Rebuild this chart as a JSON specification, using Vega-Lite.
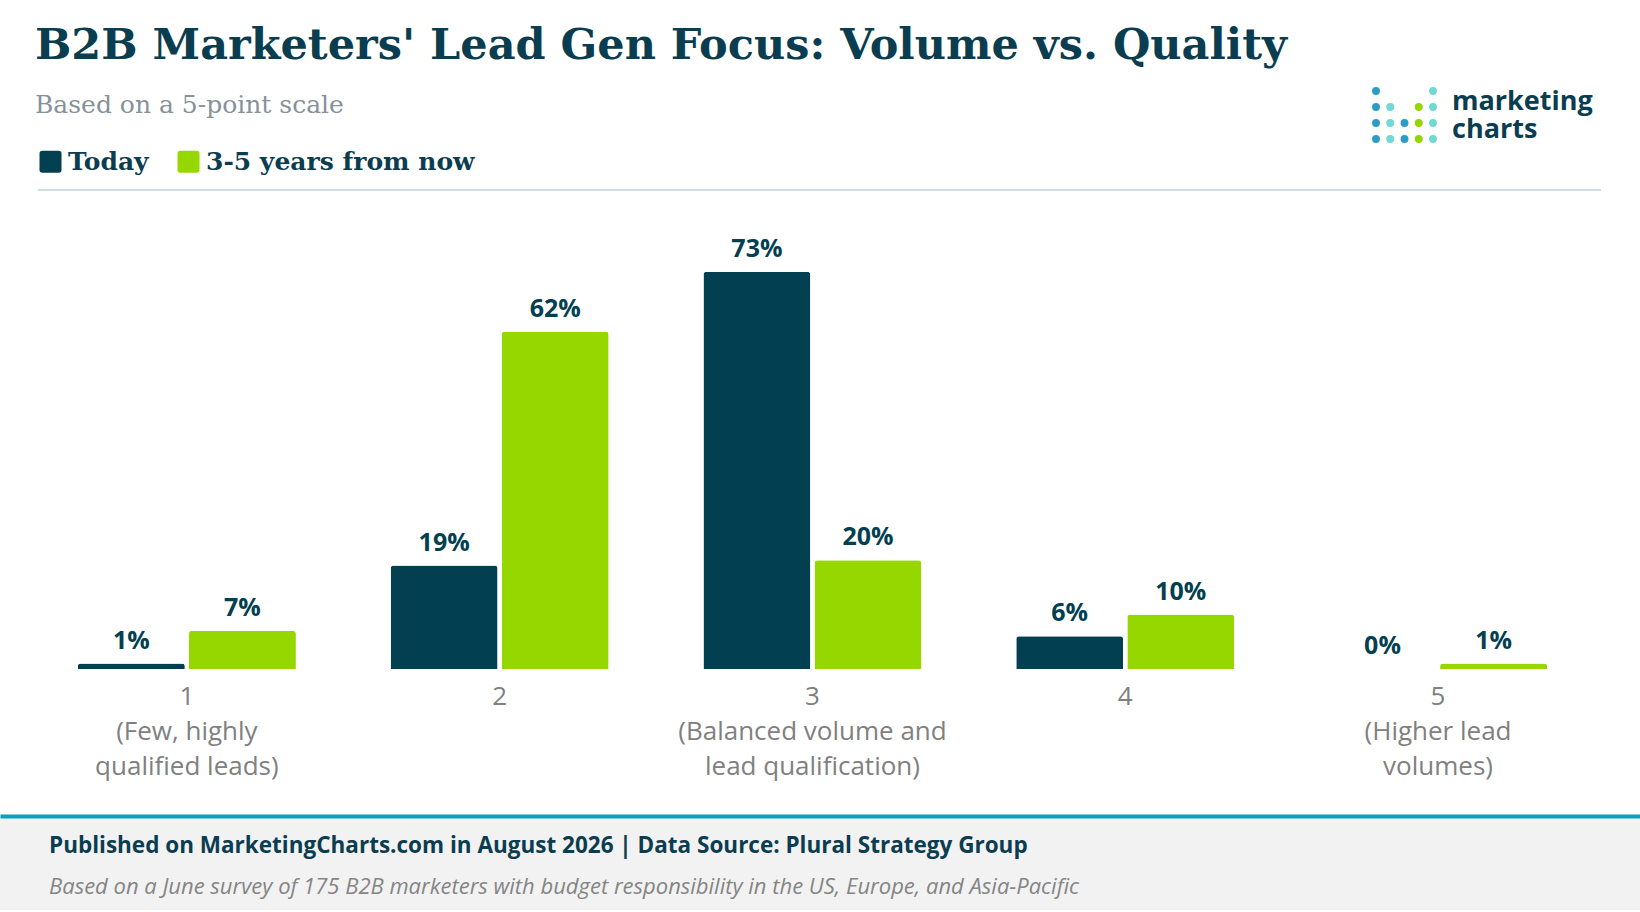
{
  "$schema": "https://vega.github.io/schema/vega-lite/v6.json",
  "description": "B2B marketers' lead gen focus, today vs 3-5 years from now",
  "background": "white",
  "padding": {"left": 0, "right": 0, "top": 25, "bottom": 0},
  "title": {
    "text": "B2B Marketers' Lead Gen Focus: Volume vs. Quality",
    "subtitle": "Based on a 5-point scale",
    "anchor": "start",
    "dx": 35,
    "font": "DejaVu Serif",
    "fontSize": 43,
    "fontWeight": "bold",
    "color": "#0b3d50",
    "subtitleFont": "DejaVu Serif",
    "subtitleFontSize": 25,
    "subtitleColor": "#87919a",
    "subtitlePadding": 25,
    "offset": -31
  },
  "spacing": 37,
  "center": true,
  "resolve": {"scale": {"color": "independent"}, "legend": {"color": "independent"}},
  "vconcat": [
    {
      "width": 1563,
      "height": 479,
      "resolve": {"scale": {"x": "independent", "y": "independent", "color": "independent"}},
      "layer": [
        {
          "data": {
            "values": [
              {"level": "1", "period": "Today", "share": 0.01},
              {"level": "1", "period": "3-5 years from now", "share": 0.07},
              {"level": "2", "period": "Today", "share": 0.19},
              {"level": "2", "period": "3-5 years from now", "share": 0.62},
              {"level": "3", "period": "Today", "share": 0.73},
              {"level": "3", "period": "3-5 years from now", "share": 0.20},
              {"level": "4", "period": "Today", "share": 0.06},
              {"level": "4", "period": "3-5 years from now", "share": 0.10},
              {"level": "5", "period": "Today", "share": 0.00},
              {"level": "5", "period": "3-5 years from now", "share": 0.01}
            ]
          },
          "layer": [
            {
              "mark": {"type": "bar", "cornerRadiusTopLeft": 3, "cornerRadiusTopRight": 3},
              "encoding": {
                "x": {
                  "field": "level", "type": "nominal", "sort": ["1", "2", "3", "4", "5"],
                  "scale": {"paddingInner": 0.303, "paddingOuter": 0.15, "align": 0.425},
                  "axis": {
                    "title": null, "domain": false, "ticks": false, "labelAngle": 0,
                    "labelFont": "Open Sans", "labelFontSize": 26, "labelColor": "#808080",
                    "labelPadding": 14, "labelLineHeight": 35, "labelOverlap": false, "labelLimit": 0,
                    "labelExpr": "datum.value == '1' ? ['1', '(Few, highly', 'qualified leads)'] : datum.value == '3' ? ['3', '(Balanced volume and', 'lead qualification)'] : datum.value == '5' ? ['5', '(Higher lead', 'volumes)'] : datum.value"
                  }
                },
                "xOffset": {"field": "period", "type": "nominal", "sort": ["Today", "3-5 years from now"], "scale": {"paddingInner": 0.037}},
                "y": {"field": "share", "type": "quantitative", "scale": {"domain": [0, 0.88], "nice": false}, "axis": null},
                "color": {
                  "field": "period", "type": "nominal",
                  "scale": {"domain": ["Today", "3-5 years from now"], "range": ["#023f51", "#97d700"]},
                  "legend": {
                    "title": null, "orient": "top", "direction": "horizontal",
                    "symbolType": "M -1 -0.75 Q -1 -1 -0.75 -1 L 0.75 -1 Q 1 -1 1 -0.75 L 1 0.75 Q 1 1 0.75 1 L -0.75 1 Q -1 1 -1 0.75 Z",
                    "symbolSize": 484, "symbolStrokeWidth": 0, "symbolOpacity": 1,
                    "labelFont": "DejaVu Serif", "labelFontSize": 25, "labelFontWeight": "bold", "labelColor": "#0b3d50",
                    "labelLimit": 0, "columnPadding": 27, "labelOffset": 5, "offset": 15, "padding": 0
                  }
                }
              }
            },
            {
              "mark": {"type": "text", "baseline": "alphabetic", "dy": -15, "font": "Open Sans", "fontSize": 25, "fontWeight": "bold", "color": "#023f51"},
              "encoding": {
                "x": {"field": "level", "type": "nominal", "sort": ["1", "2", "3", "4", "5"]},
                "xOffset": {"field": "period", "type": "nominal", "sort": ["Today", "3-5 years from now"]},
                "y": {"field": "share", "type": "quantitative", "scale": {"domain": [0, 0.88], "nice": false}},
                "text": {"field": "share", "type": "quantitative", "format": ".0%"}
              }
            },
            {
              "data": {"values": [{}]},
              "mark": {"type": "rule", "color": "#cfdde6", "strokeWidth": 2},
              "encoding": {"y": {"datum": 0.88, "type": "quantitative", "scale": {"domain": [0, 0.88], "nice": false}}}
            }
          ]
        },
        {
          "layer": [
            {
              "data": {
                "values": [
                  {"col": 1, "row": 1, "tone": "blue"},
                  {"col": 5, "row": 1, "tone": "aqua"},
                  {"col": 1, "row": 2, "tone": "blue"},
                  {"col": 2, "row": 2, "tone": "aqua"},
                  {"col": 4, "row": 2, "tone": "green"},
                  {"col": 5, "row": 2, "tone": "aqua"},
                  {"col": 1, "row": 3, "tone": "blue"},
                  {"col": 2, "row": 3, "tone": "aqua"},
                  {"col": 3, "row": 3, "tone": "blue"},
                  {"col": 4, "row": 3, "tone": "green"},
                  {"col": 5, "row": 3, "tone": "aqua"},
                  {"col": 1, "row": 4, "tone": "blue"},
                  {"col": 2, "row": 4, "tone": "aqua"},
                  {"col": 3, "row": 4, "tone": "blue"},
                  {"col": 4, "row": 4, "tone": "green"},
                  {"col": 5, "row": 4, "tone": "aqua"}
                ]
              },
              "mark": {"type": "circle", "size": 62, "opacity": 1},
              "encoding": {
                "x": {"field": "col", "type": "quantitative", "scale": {"domain": [1, 5], "range": [1338, 1395]}, "axis": null},
                "y": {"field": "row", "type": "quantitative", "scale": {"domain": [1, 4], "range": [-99, -51]}, "axis": null},
                "color": {
                  "field": "tone", "type": "nominal",
                  "scale": {"domain": ["blue", "aqua", "green"], "range": ["#2a9cc6", "#72d8d3", "#95d600"]},
                  "legend": null
                }
              }
            },
            {
              "data": {"values": [{}]},
              "mark": {"type": "text", "align": "left", "baseline": "middle", "dx": 19, "font": "Open Sans", "fontSize": 27, "fontWeight": "bold", "color": "#0b3d50", "lineHeight": 28},
              "encoding": {
                "x": {"datum": 5, "type": "quantitative"},
                "y": {"datum": 1.7, "type": "quantitative"},
                "text": {"value": ["marketing", "charts"]}
              }
            }
          ]
        }
      ]
    },
    {
      "width": 1640,
      "height": 94,
      "view": {"fill": "#f2f2f2", "stroke": null},
      "data": {
        "values": [
          {"kind": "source", "note": "Published on MarketingCharts.com in August 2026 | Data Source: Plural Strategy Group"},
          {"kind": "survey", "note": "Based on a June survey of 175 B2B marketers with budget responsibility in the US, Europe, and Asia-Pacific"}
        ]
      },
      "encoding": {
        "x": {
          "datum": "left", "type": "nominal",
          "scale": {"type": "point", "domain": ["left"], "padding": 0, "align": 0},
          "axis": {"orient": "top", "domainColor": "#0a9fc6", "domainWidth": 4, "labels": false, "ticks": false, "title": null, "grid": false}
        },
        "y": {"field": "kind", "type": "nominal", "scale": {"type": "point", "domain": ["source", "survey"], "range": [30, 70.5], "padding": 0}, "axis": null},
        "text": {"field": "note"}
      },
      "layer": [
        {
          "transform": [{"filter": "datum.kind == 'source'"}],
          "mark": {"type": "text", "align": "left", "baseline": "middle", "dx": 49, "font": "Open Sans", "fontSize": 22.5, "fontWeight": "bold", "color": "#0b3d50"}
        },
        {
          "transform": [{"filter": "datum.kind == 'survey'"}],
          "mark": {"type": "text", "align": "left", "baseline": "middle", "dx": 49, "font": "Open Sans", "fontSize": 22, "fontStyle": "italic", "color": "#858585"}
        }
      ]
    }
  ],
  "config": {
    "font": "Open Sans",
    "view": {"stroke": null}
  }
}
